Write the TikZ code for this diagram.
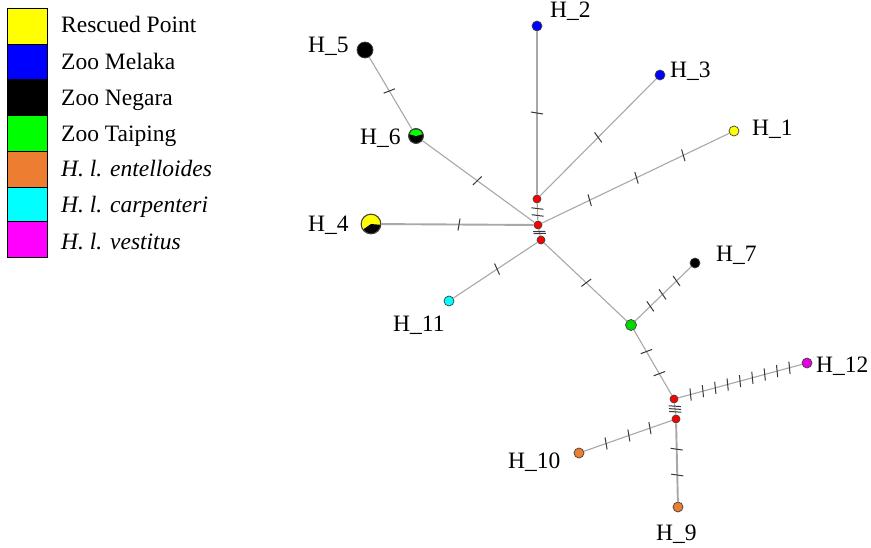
\documentclass[tikz,border=0pt]{standalone}
\usepackage{fontspec}
\setmainfont{Liberation Serif}
\usetikzlibrary{decorations.markings}
\definecolor{edgegray}{HTML}{A8A8A8}
\definecolor{tickgray}{HTML}{383838}
\definecolor{orng}{HTML}{ED7D31}
\definecolor{grn}{HTML}{00FF00}
\definecolor{cyn}{HTML}{00FFFF}
\definecolor{mgn}{HTML}{FF00FF}
\definecolor{blu}{HTML}{0000FF}
\definecolor{ylw}{HTML}{FFFF00}
\begin{document}
\begin{tikzpicture}[x=1pt,y=-1pt,
  edge/.style={draw=edgegray, line width=1.1pt},
  thickedge/.style={draw=edgegray, line width=1.9pt},
  mk/.style={postaction={decorate, decoration={markings, mark=at position #1 with {\draw[tickgray, line width=1pt] (-1pt,-6pt) -- (1pt,6pt);}}}},
  hap/.style={circle, draw=black!75, line width=0.7pt, inner sep=0pt, minimum size=#1},
  med/.style={hap=8pt, fill=red},
  lbl/.style={inner sep=0pt, anchor=base west, font=\fontsize{23.5}{28}\selectfont},
  leg/.style={draw=black, line width=1pt, minimum width=40pt, minimum height=#1, inner sep=0pt, anchor=north west}
]
\useasboundingbox (0,0) rectangle (871,548);
\fill[white] (0,0) rectangle (871,548);

% legend
\node[leg=36pt, fill=ylw] (L1) at (7,8) {};
\node[leg=35pt, fill=blu] (L2) at (7,44) {};
\node[leg=36pt, fill=black] (L3) at (7,79) {};
\node[leg=36pt, fill=grn] (L4) at (7,115) {};
\node[leg=36pt, fill=orng] (L5) at (7,151) {};
\node[leg=34pt, fill=cyn] (L6) at (7,187) {};
\node[leg=36pt, fill=mgn] (L7) at (7,221) {};
\node[lbl] (T1) at (61,33) {Rescued Point};
\node[lbl] (T2) at (61,70) {Zoo Melaka};
\node[lbl] (T3) at (61,106) {Zoo Negara};
\node[lbl] (T4) at (61,142) {Zoo Taiping};
\node[lbl] (T5) at (61,177) {\textit{H. l. entelloides}};
\node[lbl] (T6) at (61,213) {\textit{H. l. carpenteri}};
\node[lbl] (T7) at (61,250) {\textit{H. l. vestitus}};

% nodes
\node[med] (r1) at (537,199) {};
\node[med] (r2) at (538,225) {};
\node[med] (r3) at (541,240) {};
\node[med] (r4) at (674,399) {};
\node[med] (r5) at (676,419) {};
\node[hap=10pt, fill=blu] (H2) at (537,26) {};
\node[hap=10pt, fill=blu] (H3) at (660,75) {};
\node[hap=10pt, fill=ylw] (H1) at (734,131) {};
\node[hap=16pt, fill=black] (H5) at (365,50) {};
\node[hap=15pt, fill=black] (H6) at (416,136) {};
\node[hap=20pt, fill=ylw] (H4) at (371,224) {};
\node[hap=10pt, fill=cyn] (H11) at (449,301) {};
\node[hap=10pt, fill=black] (H7) at (695,263) {};
\node[hap=11pt, fill=grn!85!black] (G) at (631,325) {};
\node[hap=10pt, fill=mgn!90!black] (H12) at (807,363) {};
\node[hap=10pt, fill=orng] (H10) at (579,453) {};
\node[hap=10pt, fill=orng] (H9) at (678,507) {};

% pies
\fill[black] (H4.center) -- ++(5:9.5) arc[start angle=5, end angle=145, radius=9.5] -- cycle;
\draw[black!75, line width=0.7pt] (H4.center) circle[radius=9.7];
\fill[grn] (H6.center) -- ++(-165:6.8) arc[start angle=-165, end angle=-15, radius=6.8] -- cycle;
\draw[black!75, line width=0.7pt] (H6.center) circle[radius=7.2];

% edges
\path[thickedge, mk=0.5] (H2) -- (r1);
\path[edge, mk=0.5] (H3) -- (r1);
\path[edge, mk=0.245, mk=0.495, mk=0.745] (H1) -- (r2);
\path[edge, mk=0.47] (H5) -- (H6);
\path[edge, mk=0.49] (H6) -- (r2);
\path[thickedge, mk=0.51] (H4) -- (r2);
\path[edge, mk=0.52] (H11) -- (r3);
\path[edge, mk=0.51] (r3) -- (G);
\path[edge, mk=0.27, mk=0.49, mk=0.74] (G) -- (H7);
\path[edge, mk=0.33, mk=0.67] (G) -- (r4);
\path[edge, mk=0.1, mk=0.2, mk=0.3, mk=0.4, mk=0.5, mk=0.6, mk=0.7, mk=0.8, mk=0.9] (r4) -- (H12);
\path[edge, mk=0.25, mk=0.5, mk=0.75] (r4) -- (r5);
\path[edge, mk=0.25, mk=0.49, mk=0.75] (r5) -- (H10);
\path[thickedge, mk=0.33, mk=0.66] (r5) -- (H9);
\path[edge, mk=0.3, mk=0.7] (r1) -- (r2);
\path[edge, mk=0.35, mk=0.65] (r2) -- (r3);

% labels
\node[lbl] (lH2) at (550,18) {H\_2};
\node[lbl] (lH3) at (670,78) {H\_3};
\node[lbl] (lH1) at (752,136) {H\_1};
\node[lbl] (lH5) at (308,53) {H\_5};
\node[lbl] (lH6) at (360,145) {H\_6};
\node[lbl] (lH4) at (308,232) {H\_4};
\node[lbl] (lH11) at (393,332) {H\_11};
\node[lbl] (lH7) at (716,262) {H\_7};
\node[lbl] (lH12) at (816,372) {H\_12};
\node[lbl] (lH10) at (508,468) {H\_10};
\node[lbl] (lH9) at (656,540) {H\_9};
\end{tikzpicture}
\end{document}
